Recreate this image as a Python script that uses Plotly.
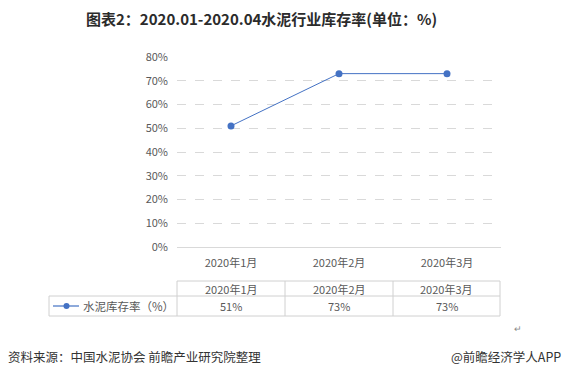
import plotly.graph_objects as go

categories = ["2020年1月", "2020年2月", "2020年3月"]
values = [51, 73, 73]
series_name = "水泥库存率（%）"
value_labels = ["51%", "73%", "73%"]
title_text = "图表2：2020.01-2020.04水泥行业库存率(单位：%)"
source_text = "资料来源：中国水泥协会 前瞻产业研究院整理"
brand_text = "@前瞻经济学人APP"

W, H = 564, 376
L, R = 177, 501   # plot area pixel left/right
T, B = 57, 247    # plot area pixel top/bottom

def px(x):
    return (x - L) / (R - L)

def py(y):
    return (B - y) / (B - T)

FONT = "Noto Sans CJK SC, Microsoft YaHei, sans-serif"
LINE = "#4472C4"
GRID = "#d9d9d9"
TXT = "#595959"

fig = go.Figure()
fig.add_trace(go.Scatter(
    x=categories, y=values, mode="lines+markers",
    line=dict(color=LINE, width=1),
    marker=dict(color=LINE, size=7),
    name=series_name, showlegend=False, cliponaxis=False,
))

shapes = []
annotations = []

def ann(x, y, text, size, color=TXT, xanchor="center"):
    annotations.append(dict(xref="paper", yref="paper", x=px(x), y=py(y),
                            xanchor=xanchor, yanchor="middle",
                            text=text, showarrow=False,
                            font=dict(size=size, color=color, family=FONT)))

# table lines
tl = "#d0d0d0"
def hline(x0, x1, y):
    shapes.append(dict(type="line", xref="paper", yref="paper",
                       x0=px(x0), x1=px(x1), y0=py(y), y1=py(y),
                       line=dict(color=tl, width=1)))
def vline(x, y0, y1):
    shapes.append(dict(type="line", xref="paper", yref="paper",
                       x0=px(x), x1=px(x), y0=py(y0), y1=py(y1),
                       line=dict(color=tl, width=1)))

hline(177, 500, 281)
hline(49, 500, 296)
hline(49, 500, 316)
vline(49, 296, 316)
for xv in [177, 285, 393, 500]:
    vline(xv, 281, 316)

col_centers = [231, 339, 446.5]
for c, cat, lab in zip(col_centers, categories, value_labels):
    ann(c, 288.5, cat, 11)
    ann(c, 306, lab, 11)

# legend key in table
shapes.append(dict(type="line", xref="paper", yref="paper",
                   x0=px(53), x1=px(79), y0=py(306), y1=py(306),
                   line=dict(color=LINE, width=1.2)))
shapes.append(dict(type="circle", xref="paper", yref="paper",
                   x0=px(63.5), x1=px(69.5), y0=py(309), y1=py(303),
                   fillcolor=LINE, line=dict(color=LINE, width=0)))
ann(81, 306, series_name, 11.5, xanchor="left")

# title
ann(261, 18, "<b>" + title_text + "</b>", 15, color="#2b2b2b")
# footer
ann(6, 356, source_text, 12.5, color="#333333", xanchor="left")
ann(563, 356, brand_text, 12.5, color="#333333", xanchor="right")
ann(518, 328, "↵", 9, color="#888888")

fig.update_layout(
    width=W, height=H,
    margin=dict(l=L, r=W - R, t=T, b=H - B, pad=0),
    paper_bgcolor="white", plot_bgcolor="white",
    showlegend=False,
    shapes=shapes, annotations=annotations,
    font=dict(family=FONT, size=11, color=TXT),
    xaxis=dict(type="category", range=[-0.5, 2.5], showgrid=False,
               zeroline=False, showline=False, ticks="", ticklabelstandoff=8,
               tickfont=dict(size=11, color=TXT, family=FONT)),
    yaxis=dict(range=[0, 80], dtick=10, ticksuffix="%",
               showgrid=True, gridcolor=GRID, griddash="dash", gridwidth=1,
               zeroline=True, zerolinecolor=GRID, zerolinewidth=1,
               showline=False, ticks="", ticklabelstandoff=8,
               tickfont=dict(size=11, color=TXT, family=FONT)),
)

fig.write_html("out.html", config={"displayModeBar": False},
               post_script="document.body.style.margin='0';document.body.style.overflow='hidden';")
